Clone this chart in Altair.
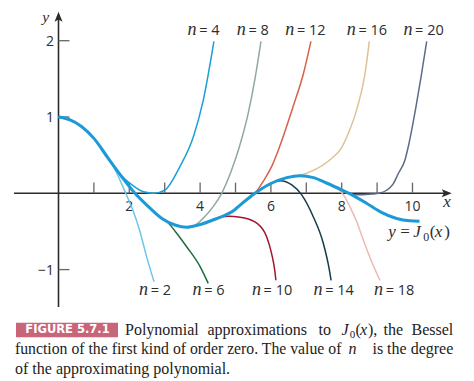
import altair as alt
import pandas as pd

# ---------------- data ----------------
j0_x = [0, 0.3, 0.65, 1.0, 1.4, 1.78, 2.16, 2.54, 2.92, 3.29, 3.62, 3.95, 4.42, 4.98, 5.13,
        5.55, 5.97, 6.45, 6.82, 7.2, 7.57, 8.0, 8.33, 8.7, 9.08, 9.55, 9.92, 10.2]
j0_y = [1.0, 0.97, 0.875, 0.72, 0.46, 0.22, 0.0, -0.175, -0.33, -0.415, -0.445, -0.415, -0.34,
        -0.215, -0.155, 0.0, 0.122, 0.205, 0.23, 0.205, 0.135, 0.044, -0.03, -0.13, -0.24,
        -0.33, -0.36, -0.365]

p2_x = [0, 0.65, 1.0, 1.45, 1.65, 1.9, 2.1, 2.3, 2.5, 2.7]
p2_y = [1.0, 0.875, 0.72, 0.44, 0.26, 0.0, -0.22, -0.5, -0.85, -1.16]
p4_x = [0, 0.65, 1.0, 1.4, 1.78, 2.02, 2.4, 2.7, 3.0, 3.43, 3.81, 4.09, 4.39]
p4_y = [1.0, 0.875, 0.72, 0.46, 0.23, 0.13, 0.02, 0.0, 0.04, 0.35, 0.74, 1.22, 1.99]
p6_x = [2.16, 2.54, 2.92, 3.06, 3.3, 3.62, 4.0, 4.23]
p6_y = [0.0, -0.175, -0.33, -0.37, -0.5, -0.70, -0.96, -1.18]
p8_x = [3.29, 3.62, 3.85, 4.1, 4.37, 4.61, 4.89, 5.11, 5.36, 5.55, 5.72]
p8_y = [-0.415, -0.445, -0.42, -0.32, -0.175, 0.0, 0.305, 0.61, 1.05, 1.5, 1.99]
p10_x = [3.95, 4.3, 4.56, 4.84, 5.22, 5.6, 5.88, 6.02, 6.12, 6.14]
p10_y = [-0.415, -0.36, -0.31, -0.3, -0.32, -0.39, -0.57, -0.79, -1.05, -1.14]
p12_x = [4.98, 5.13, 5.55, 5.8, 6.02, 6.26, 6.63, 6.92, 7.13]
p12_y = [-0.215, -0.155, 0.0, 0.17, 0.35, 0.63, 1.14, 1.57, 1.99]
p14_x = [5.55, 5.97, 6.26, 6.59, 6.87, 7.2, 7.48, 7.65, 7.7]
p14_y = [0.0, 0.122, 0.165, 0.11, -0.02, -0.31, -0.655, -1.0, -1.14]
p16_x = [6.45, 6.82, 7.2, 7.67, 8.0, 8.2, 8.42, 8.66, 8.78]
p16_y = [0.205, 0.235, 0.3, 0.44, 0.6, 0.8, 1.09, 1.57, 1.99]
p18_x = [7.2, 7.57, 7.85, 8.05, 8.23, 8.43, 8.61, 8.85, 9.08]
p18_y = [0.205, 0.135, 0.07, -0.02, -0.175, -0.38, -0.61, -0.9, -1.14]
p20_x = [7.57, 8.0, 8.33, 8.6, 8.85, 9.05, 9.27, 9.45, 9.6, 9.79, 9.88, 10.1, 10.25, 10.4]
p20_y = [0.135, 0.044, -0.02, -0.02, -0.01, 0.0, 0.04, 0.12, 0.26, 0.44, 0.61, 1.14, 1.55, 1.99]

degrees = [2, 4, 6, 8, 10, 12, 14, 16, 18, 20]
poly_x = [p2_x, p4_x, p6_x, p8_x, p10_x, p12_x, p14_x, p16_x, p18_x, p20_x]
poly_y = [p2_y, p4_y, p6_y, p8_y, p10_y, p12_y, p14_y, p16_y, p18_y, p20_y]
poly_colors = ["#6cc6ec", "#1b9fd9", "#1f6b3d", "#8eaa9c", "#a3172d",
               "#d9604a", "#163b4a", "#dcc295", "#e9bcae", "#5d6b8a"]

# label anchors (data units) for the "n = k" labels
top_deg = [4, 8, 12, 16, 20]
top_lx = [3.94, 5.33, 6.70, 8.44, 10.04]
bot_deg = [2, 6, 10, 14, 18]
bot_lx = [2.57, 4.08, 5.76, 7.50, 9.21]
top_ly = 2.075
bot_ly = -1.333

x_tick_values = [1, 2, 3, 4, 5, 6, 7, 8, 9, 10]
x_tick_labels = ["", "2", "", "4", "", "6", "", "8", "", "10"]
y_tick_values = [-1, 1, 2]
y_tick_labels = ["\u22121", "1", "2"]

# ---------------- layout ----------------
W, H = 458, 370
PX_X0, PX_PER_X = 50.5, 35.4     # svg px of x=0, px per unit
PX_Y0, PX_PER_Y = 185.3, 76.3    # svg px of y=0, px per unit
XS = alt.Scale(domain=[-PX_X0 / PX_PER_X, (W - PX_X0) / PX_PER_X], nice=False, zero=False)
YS = alt.Scale(domain=[(PX_Y0 - H) / PX_PER_Y, PX_Y0 / PX_PER_Y], nice=False, zero=False)
XE = lambda f="x": alt.X(f"{f}:Q", scale=XS, axis=None)
YE = lambda f="y": alt.Y(f"{f}:Q", scale=YS, axis=None)

SERIF = "Liberation Serif"
SANS = "Open Sans"
INK = "#2e2e2e"
AXIS = "#2b2b2b"

layers = []

# axes
layers.append(alt.Chart(pd.DataFrame({"x": [-1.257], "x2": [10.95], "y": [0]}))
              .mark_rule(color=AXIS, strokeWidth=1.6)
              .encode(x=XE(), x2="x2:Q", y=YE()))
layers.append(alt.Chart(pd.DataFrame({"x": [0], "y": [-1.49], "y2": [2.30]}))
              .mark_rule(color=AXIS, strokeWidth=1.6)
              .encode(x=XE(), y=YE(), y2="y2:Q"))
layers.append(alt.Chart(pd.DataFrame({"x": x_tick_values, "y": [0] * 10, "y2": [0.14] * 10}))
              .mark_rule(color="#666666", strokeWidth=1.3)
              .encode(x=XE(), y=YE(), y2="y2:Q"))
layers.append(alt.Chart(pd.DataFrame({"y": y_tick_values, "x": [0] * 3, "x2": [0.31] * 3}))
              .mark_rule(color="#666666", strokeWidth=1.3)
              .encode(x=XE(), x2="x2:Q", y=YE()))
layers.append(alt.Chart(pd.DataFrame({"x": [0], "y": [2.315]}))
              .mark_point(shape="M0,-1L0.8,1L0,0.55L-0.8,1Z", filled=True, size=100,
                          color=AXIS, opacity=1, strokeWidth=0)
              .encode(x=XE(), y=YE()))
layers.append(alt.Chart(pd.DataFrame({"x": [10.966], "y": [0]}))
              .mark_point(shape="M1,0L-1,0.8L-0.55,0L-1,-0.8Z", filled=True, size=100,
                          color=AXIS, opacity=1, strokeWidth=0)
              .encode(x=XE(), y=YE()))
# tick labels
layers.append(alt.Chart(pd.DataFrame({"x": x_tick_values, "y": [-0.235] * 10, "t": x_tick_labels}))
              .mark_text(font=SANS, fontSize=14, color=INK, align="center", baseline="alphabetic")
              .encode(x=XE(), y=YE(), text="t:N"))
layers.append(alt.Chart(pd.DataFrame({"x": [-0.127] * 3, "y": y_tick_values, "t": y_tick_labels}))
              .mark_text(font=SANS, fontSize=14, color=INK, align="right", baseline="middle", dy=1)
              .encode(x=XE(), y=YE(), text="t:N"))


def label(text, x, y, size, font=SERIF, style="normal", weight="normal", align="left",
          color=INK, dx=0, dy=0, baseline="alphabetic", px=False):
    m = alt.Chart(pd.DataFrame({"x": [x], "y": [y]})).mark_text(
        text=text, fontSize=size, font=font, fontStyle=style, fontWeight=weight,
        align=align, baseline=baseline, color=color, dx=dx, dy=dy)
    if px:
        return m.encode(x=alt.value(x), y=alt.value(y))
    return m.encode(x=XE(), y=YE())


layers.append(label("y", -0.359, 2.245, 15.5, style="italic", align="center"))
layers.append(label("x", 10.975, -0.176, 17, style="italic", align="center"))

# polynomial curves
rows = []
for d, xs, ys in zip(degrees, poly_x, poly_y):
    for a, b in zip(xs, ys):
        rows.append({"n": f"n{d}", "x": a, "y": b})
poly_df = pd.DataFrame(rows)
layers.append(alt.Chart(poly_df).mark_line(interpolate="monotone", strokeWidth=1.5)
              .encode(x=XE(), y=YE(),
                      color=alt.Color("n:N", scale=alt.Scale(domain=[f"n{d}" for d in degrees],
                                                             range=poly_colors), legend=None),
                      detail="n:N"))
# J0 on top
layers.append(alt.Chart(pd.DataFrame({"x": j0_x, "y": j0_y}))
              .mark_line(interpolate="monotone", strokeWidth=3, color="#1b9ad7")
              .encode(x=XE(), y=YE()))

# n = k labels
lab_df = pd.DataFrame({"x": top_lx + bot_lx,
                       "y": [top_ly] * 5 + [bot_ly] * 5,
                       "rest": [f"= {d}" for d in top_deg + bot_deg]})
layers.append(alt.Chart(lab_df).mark_text(text="n", font=SERIF, fontStyle="italic", fontSize=18,
                                          color=INK, align="right", baseline="alphabetic", dx=-1.5)
              .encode(x=XE(), y=YE()))
layers.append(alt.Chart(lab_df).mark_text(font=SANS, fontSize=14.5, color=INK, align="left",
                                          baseline="alphabetic", dx=1.2)
              .encode(x=XE(), y=YE(), text="rest:N"))

# y = J0(x)
JX, JY = 9.317, -0.577
layers.append(label("y", JX, JY, 17, style="italic"))
layers.append(label("=", JX, JY, 17, dx=12))
layers.append(label("J", JX, JY, 17, style="italic", dx=25))
layers.append(label("0", JX, JY, 12, dx=35, dy=4))
layers.append(label("(", JX, JY, 17, dx=41.5))
layers.append(label("x", JX, JY, 17, style="italic", dx=46.5))
layers.append(label(")", JX, JY, 17, dx=56))

# caption
layers.append(alt.Chart(pd.DataFrame({"a": [0]})).mark_rect(color="#c86578")
              .encode(x=alt.value(8), x2=alt.value(110), y=alt.value(314.7), y2=alt.value(329.3)))
layers.append(label("FIGURE 5.7.1", 59.5, 322, 11.5, font="DejaVu Sans", weight="bold",
                    align="center", baseline="middle", color="white", px=True))
CAP = "#222222"
L1, L2, L3 = 326.8, 346.2, 365.6
for t, x, kw in [("Polynomial", 117, {}), ("approximations", 199.5, {}), ("to", 310.5, {}),
                 ("J", 333.5, {"style": "italic"}), ("(", 347.5, {}),
                 ("x", 352, {"style": "italic"}), ("),", 360, {}), ("the", 375.5, {})]:
    layers.append(label(t, x, L1, 16, color=CAP, px=True, **kw))
layers.append(label("0", 341.8, L1 + 3.5, 11, color=CAP, px=True))
layers.append(label("Bessel", 445.3, L1, 16, color=CAP, align="right", px=True))
layers.append(label("function of the first kind of order zero. The value of", 7, L2, 15.75,
                    color=CAP, px=True))
layers.append(label("n", 340.5, L2, 16, style="italic", color=CAP, px=True))
layers.append(label("is the degree", 445.3, L2, 16, color=CAP, align="right", px=True))
layers.append(label("of the approximating polynomial.", 7, L3, 16, color=CAP, px=True))

chart = (alt.layer(*layers)
         .properties(width=W, height=H, padding=0,
                     autosize=alt.AutoSizeParams(type="none"))
         .configure_view(stroke=None))

chart.save("out.html", embed_options={"renderer": "svg", "actions": False})
